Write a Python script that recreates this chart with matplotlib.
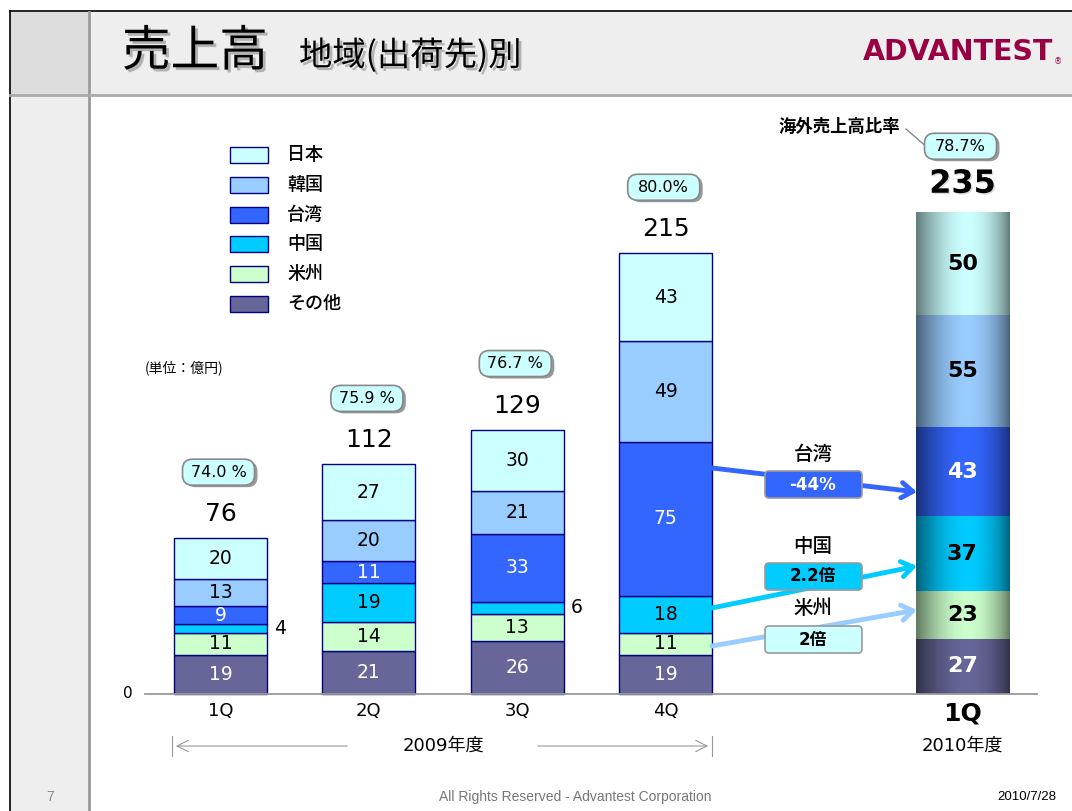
import matplotlib
matplotlib.use('Agg')
import numpy as np
import matplotlib.pyplot as plt
from matplotlib.patches import Rectangle, FancyBboxPatch
import matplotlib.patheffects as pe

plt.rcParams['font.family'] = ['DejaVu Sans', 'Noto Sans CJK JP']

# data (bottom -> top stacking order)
regions = ['その他', '米州', '中国', '台湾', '韓国', '日本']
colors = ['#666699', '#CCFFCC', '#00CCFF', '#3366FF', '#99CCFF', '#CCFFFF']
text_white = ['その他', '台湾']
quarters = ['1Q', '2Q', '3Q', '4Q']
fy2009 = {
    'その他': [19, 21, 26, 19],
    '米州': [11, 14, 13, 11],
    '中国': [4, 19, 6, 18],
    '台湾': [9, 11, 33, 75],
    '韓国': [13, 20, 21, 49],
    '日本': [20, 27, 30, 43],
}
ratio2009 = ['74.0 %', '75.9 %', '76.7 %', '80.0%']
fy2010_1q = [27, 23, 37, 43, 55, 50]
ratio2010 = '78.7%'
changes = [('台湾', '-44%', '#3366FF', 'white'),
           ('中国', '2.2倍', '#00CCFF', 'black'),
           ('米州', '2倍', '#CCFFFF', 'black')]

W, H = 1072, 811
fig = plt.figure(figsize=(W / 100, H / 100), dpi=100)
fig.patch.set_facecolor('white')

# main axes: bar positions 0..3 for 2009, 5 for 2010
ax = fig.add_axes([0, 0, 1, 1])
ax.set_facecolor('none')
ax.axis('off')
xscale, yscale, x0px, y0px = 148.4, 2.05, 220.5, 694
ax.set_xlim(-x0px / xscale, (W - x0px) / xscale)
ax.set_ylim(-(H - y0px) / yscale, y0px / yscale)

deco = fig.add_axes([0, 0, 1, 1], zorder=5)
deco.set_facecolor('none')
deco.axis('off')
deco.set_xlim(0, W)
deco.set_ylim(H, 0)


def to_px(x, y):
    d = ax.transData.transform((x, y))
    return d[0], H - d[1]


# ---- frame / header ----
deco.add_patch(Rectangle((10, 12), W - 10, 83, fc='#EEEEEE', ec='none', zorder=0))
deco.add_patch(Rectangle((10, 12), 78, 83, fc='#DCDCDC', ec='none', zorder=0))
deco.add_patch(Rectangle((10, 95), 78, H - 95, fc='#EEEEEE', ec='none', zorder=0))
deco.plot([10, 10], [11, H], color='black', lw=1.2)
deco.plot([10, W], [11, 11], color='black', lw=1.2)
deco.plot([89, 89], [12, H], color='#999999', lw=2)
deco.plot([10, W], [95, 95], color='#AAAAAA', lw=2)

shadow = [pe.SimplePatchShadow(offset=(2, -2), shadow_rgbFace='#777777', alpha=0.5), pe.Normal()]
deco.text(122, 52, '売上高', fontsize=35, family='Noto Sans CJK JP', va='center',
          ha='left', path_effects=shadow)
deco.text(299, 56, '地域(出荷先)別', fontsize=24, family='Noto Sans CJK JP', va='center',
          ha='left', path_effects=shadow)
deco.text(1053, 52, 'ADVANTEST', fontsize=20.5, fontweight='heavy',
          color='#990044', ha='right', va='center', family='DejaVu Sans')
deco.text(1054, 62, '®', fontsize=6, color='#990044', ha='left', va='center')

# ---- 2009 bars ----
x09 = np.arange(len(quarters))
bw = 0.627
bottom = np.zeros(len(quarters))
for reg, col in zip(regions, colors):
    vals = np.array(fy2009[reg])
    ax.bar(x09, vals, bw, bottom=bottom, color=col, edgecolor='#000080', lw=1, zorder=2)
    tc = 'white' if reg in text_white else 'black'
    for xi, v, b in zip(x09, vals, bottom):
        if v < 8:
            ax.text(xi + bw / 2 + 0.05, b + v / 2, str(v), fontsize=13.5, ha='left',
                    va='center', color='black', zorder=3)
        else:
            ax.text(xi, b + v / 2, str(v), fontsize=13.5, ha='center', va='center',
                    color=tc, zorder=3)
    bottom += vals
totals09 = bottom.copy()

# ---- 2010 1Q bar (shaded) ----
x10 = 5
t = np.linspace(0, 1, 80)
shade = 0.48 + 0.52 * np.sin(np.pi * t ** 1.15) ** 0.8
b = 0
for reg, col, v in zip(regions, colors, fy2010_1q):
    rgb = np.array(matplotlib.colors.to_rgb(col))
    img = np.clip(shade[None, :, None] * rgb[None, None, :], 0, 1)
    ax.imshow(img, extent=[x10 - bw / 2, x10 + bw / 2, b, b + v], aspect='auto',
              interpolation='bilinear', zorder=2)
    tc = 'white' if reg in text_white else 'black'
    ax.text(x10, b + v / 2, str(v), fontsize=16, fontweight='bold', ha='center',
            va='center', color=tc, zorder=3)
    b += v
total10 = b
ax.set_xlim(-x0px / xscale, (W - x0px) / xscale)
ax.set_ylim(-(H - y0px) / yscale, y0px / yscale)
ax.set_aspect('auto')


def ratio_box(x, total, label):
    cx, cy = to_px(x, total)
    cy -= 65
    deco.add_patch(FancyBboxPatch((cx - 35, cy - 12), 72, 26, boxstyle='round,pad=0,rounding_size=10',
                                  fc='#999999', ec='none', zorder=3))
    deco.add_patch(FancyBboxPatch((cx - 38, cy - 14), 72, 26, boxstyle='round,pad=0,rounding_size=10',
                                  fc='#CCFFFF', ec='#888888', lw=1.2, zorder=4))
    deco.text(cx - 2, cy - 1, label, fontsize=11.5, ha='center', va='center', zorder=5)


for xi, tot, r in zip(x09, totals09, ratio2009):
    cx, cy = to_px(xi, tot)
    deco.text(cx, cy - 24, str(int(tot)), fontsize=18, ha='center', va='center')
    ratio_box(xi, tot, r)
cx, cy = to_px(x10, total10)
deco.text(cx, cy - 28, str(total10), fontsize=23, fontweight='bold', ha='center', va='center',
          path_effects=[pe.SimplePatchShadow(offset=(1, -1), shadow_rgbFace='#bbbbbb', alpha=0.5), pe.Normal()])
ratio_box(x10, total10, ratio2010)
deco.text(900, 127, '海外売上高比率', fontsize=12.5, fontweight='bold', ha='right', va='center',
          family='Noto Sans CJK JP')
deco.plot([906, 928], [129, 148], color='#888888', lw=1)

# ---- axis ----
deco.plot([145, 1037], [694, 694], color='#999999', lw=1.3)
deco.text(128, 694, '0', fontsize=11, ha='center', va='center')
for xi, q in zip(x09, quarters):
    cx, _ = to_px(xi, 0)
    deco.text(cx, 711, q, fontsize=13, ha='center', va='center')
cx, _ = to_px(x10, 0)
deco.text(cx, 714, '1Q', fontsize=18, fontweight='bold', ha='center', va='center')
deco.text(cx, 746, '2010年度', fontsize=13, ha='center', va='center')
deco.text(443, 746, '2009年度', fontsize=13, ha='center', va='center')
for xs in (172, 712):
    deco.plot([xs, xs], [736, 756], color='#999999', lw=0.8)
deco.annotate('', xy=(173, 746), xytext=(350, 746),
              arrowprops=dict(arrowstyle='->,head_length=0.8,head_width=0.4', color='#999999', lw=0.8))
deco.annotate('', xy=(711, 746), xytext=(535, 746),
              arrowprops=dict(arrowstyle='->,head_length=0.8,head_width=0.4', color='#999999', lw=0.8))

# ---- legend ----
for i, (reg, col) in enumerate(zip(regions[::-1], colors[::-1])):
    yc = 155 + 29.8 * i
    deco.add_patch(Rectangle((230, yc - 8), 38, 16, fc=col, ec='#000080', lw=1))
    deco.text(287, yc, reg, fontsize=13, fontweight='medium', ha='left', va='center',
              family='Noto Sans CJK JP')
deco.text(145, 368, '(単位：億円)', fontsize=10, ha='left', va='center', family='Noto Sans CJK JP')

# ---- change callouts ----
arrow_ends = [((712, 468), (917, 492)), ((712, 608), (917, 566)), ((712, 646), (917, 610))]
box_y = [484, 576, 639]
for (reg, lab, fc, tc), (p0, p1), by in zip(changes, arrow_ends, box_y):
    ac = '#99CCFF' if reg == '米州' else fc
    deco.annotate('', xy=p1, xytext=p0,
                  arrowprops=dict(arrowstyle='->,head_length=0.8,head_width=0.55', color=ac,
                                  lw=3.5, shrinkA=0, shrinkB=0), zorder=2)
    deco.add_patch(FancyBboxPatch((765, by - 13), 97, 27, boxstyle='round,pad=0,rounding_size=4',
                                  fc=fc, ec='#999999', lw=1.2, zorder=4))
    deco.text(813, by + 0.5, lab, fontsize=12, fontweight='bold', color=tc, ha='center',
              va='center', zorder=5)
    deco.text(813, by - 30, reg, fontsize=14, fontweight='medium', ha='center', va='center',
              family='Noto Sans CJK JP')

# ---- footer ----
deco.text(575, 797, 'All Rights Reserved - Advantest Corporation', fontsize=10,
          family='Liberation Sans', color='#777777', ha='center', va='center')
deco.text(1056, 797, '2010/7/28', fontsize=9.5, family='Liberation Sans', ha='right', va='center')
deco.text(50, 797, '7', fontsize=10, family='Liberation Sans', color='#888888', ha='center', va='center')

fig.savefig('out.png', dpi=100)
